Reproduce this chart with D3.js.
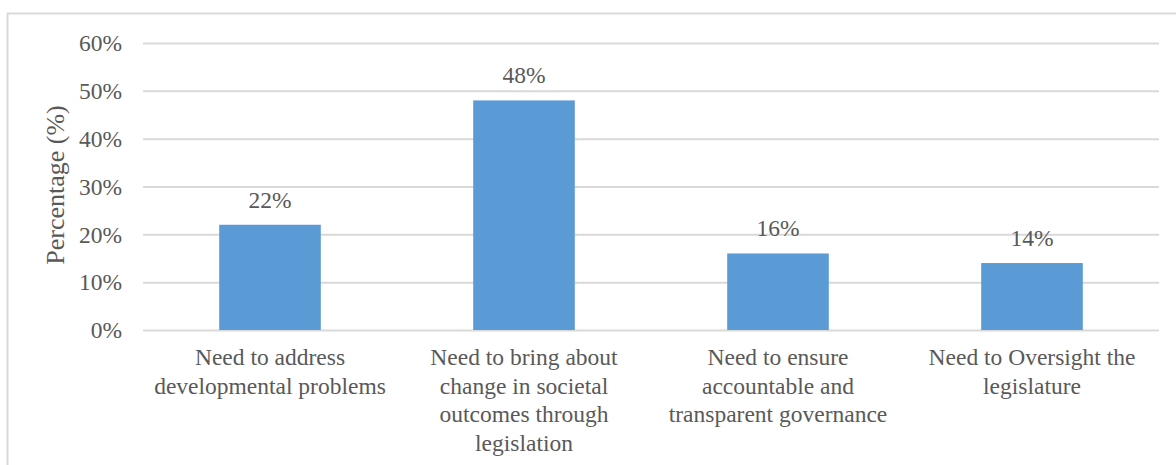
<!DOCTYPE html>
<html lang="en">
<head>
<meta charset="utf-8">
<title>Percentage by reason</title>
<script src="https://cdn.jsdelivr.net/npm/d3@7"></script>
<style>
  body { margin: 0; background: #fff; }
  .tick line { stroke: #d9d9d9; stroke-width: 2px; }
  .domain { display: none; }
</style>
</head>
<body>
<script>
// data
const categories = [
  ["Need to address", "developmental problems"],
  ["Need to bring about", "change in societal", "outcomes through", "legislation"],
  ["Need to ensure", "accountable and", "transparent governance"],
  ["Need to Oversight the", "legislature"]
];
const values = [22, 48, 16, 14];
const yTicks = [0, 10, 20, 30, 40, 50, 60];

const width = 1176, height = 465;
const plotLeft = 143, plotRight = 1159, plotTop = 43, plotBottom = 330;
const FONT = '"Liberation Serif"';
const TXT = "#595959";
const FS = "23.5px";

const svg = d3.select("body").append("svg")
  .attr("width", width)
  .attr("height", height);

// chart border (only left + top visible in the crop)
svg.append("rect")
  .attr("x", 7.5).attr("y", 13.5)
  .attr("width", 1300).attr("height", 600)
  .attr("fill", "none")
  .attr("stroke", "#d9d9d9")
  .attr("stroke-width", 2);

const x = d3.scaleBand()
  .domain(d3.range(values.length))
  .range([plotLeft, plotRight]);

const y = d3.scaleLinear()
  .domain([0, 60])
  .range([plotBottom, plotTop]);

// gridlines + tick labels
const yAxis = svg.append("g")
  .attr("transform", `translate(${plotLeft},0)`)
  .call(d3.axisLeft(y).tickValues(yTicks).tickSize(-(plotRight - plotLeft)).tickFormat(d => d + "%"));
yAxis.selectAll(".tick text")
  .attr("x", -21)
  .attr("dy", "0.33em")
  .style("font-family", FONT)
  .style("fill", TXT)
  .style("font-size", FS);

// bars
const barW = x.bandwidth() * 0.4;
svg.selectAll("rect.bar")
  .data(values)
  .join("rect")
  .attr("class", "bar")
  .attr("x", (d, i) => x(i) + (x.bandwidth() - barW) / 2)
  .attr("y", d => y(d))
  .attr("width", barW)
  .attr("height", d => y(0) - y(d))
  .attr("fill", "#5b9bd5");

// value labels
svg.selectAll("text.val")
  .data(values)
  .join("text")
  .attr("class", "val")
  .attr("x", (d, i) => x(i) + x.bandwidth() / 2)
  .attr("y", d => y(d) - 17)
  .attr("text-anchor", "middle")
  .style("font-family", FONT)
  .style("fill", TXT)
  .style("font-size", FS)
  .text(d => d + "%");

// category labels
const cat = svg.selectAll("text.cat")
  .data(categories)
  .join("text")
  .attr("class", "cat")
  .attr("text-anchor", "middle")
  .style("font-family", FONT)
  .style("fill", TXT)
  .style("font-size", FS);
cat.selectAll("tspan")
  .data((d, i) => d.map(s => ({ s, i })))
  .join("tspan")
  .attr("x", d => x(d.i) + x.bandwidth() / 2)
  .attr("y", (d, j) => 365 + j * 28.5)
  .text(d => d.s);

// y title
svg.append("text")
  .attr("transform", "translate(64,185) rotate(-90)")
  .attr("text-anchor", "middle")
  .style("font-family", FONT)
  .style("fill", TXT)
  .style("font-size", "26px")
  .text("Percentage (%)");
</script>
</body>
</html>
